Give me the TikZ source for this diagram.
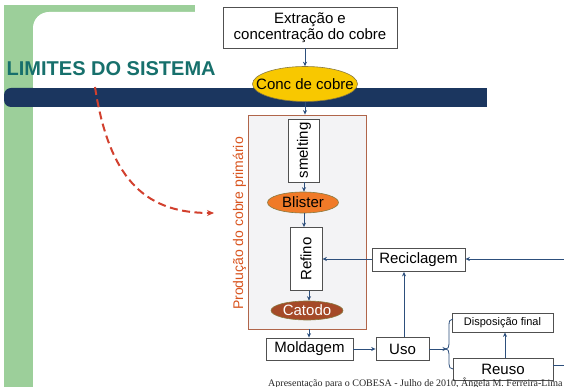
\documentclass[tikz,border=0pt]{standalone}
\usepackage{fontspec}
\setmainfont{Liberation Sans}
\newfontfamily\footfont{Liberation Serif}
\usetikzlibrary{shapes.geometric,arrows.meta}
\definecolor{navybar}{HTML}{1B365F}
\definecolor{greenbg}{HTML}{9CCF9A}
\definecolor{limteal}{HTML}{17706C}
\definecolor{boxgray}{HTML}{505050}
\definecolor{arrblue}{HTML}{2D4F7C}
\definecolor{concy}{HTML}{F8C800}
\definecolor{concd}{HTML}{8A7A40}
\definecolor{blistor}{HTML}{F07A28}
\definecolor{catbr}{HTML}{A54A28}
\definecolor{prodfill}{HTML}{F3F3F5}
\definecolor{prodline}{HTML}{B0654A}
\definecolor{prodtext}{HTML}{D9541E}
\definecolor{reddash}{HTML}{D2402E}
\begin{document}
\begin{tikzpicture}[x=1pt,y=-1pt,
  box/.style={draw=boxgray,fill=white,line width=0.8pt,inner sep=0pt,align=center,font=\fontsize{15}{17}\selectfont},
  ell/.style={ellipse,draw=concd,line width=0.6pt,inner sep=0pt},
  arr/.style={draw=arrblue,line width=0.9pt,-{Stealth[length=4.5pt,width=4pt]}},
  plainline/.style={draw=arrblue,line width=0.9pt},
  redarrow/.style={draw=reddash,line width=2pt,dash pattern=on 8pt off 4.5pt,-{Stealth[length=7pt,width=6pt]}}
]
\useasboundingbox (0,0) rectangle (564,387);
\fill[white] (0,0) rectangle (564,387);
% green frame
\fill[greenbg] (4,5) rectangle (195,12);
\fill[greenbg] (4,5) rectangle (33,387);
\fill[greenbg] (33,12) rectangle (55,34);
\fill[white,rounded corners=16pt] (33,12) rectangle (620,420);
% title
\node[anchor=base west,inner sep=0pt,text=limteal,font=\bfseries\fontsize{20}{24}\selectfont] (lim) at (6.5,76) {LIMITES DO SISTEMA};
% navy bar
\fill[navybar,rounded corners=7pt] (4,88) rectangle (40,107);
\fill[navybar] (20,88) rectangle (487,107);
% top nodes
\node[box,minimum width=174,minimum height=41] (ext) at (310,27.5) {Extração e\\[-1pt]concentração do cobre};
\node[ell,fill=concy,minimum width=105,minimum height=35,
      label={[inner sep=0pt,font=\fontsize{15}{17}\selectfont]center:Conc de cobre}] (conc) at (305,84) {};
% production block
\node[draw=prodline,fill=prodfill,line width=0.8pt,minimum width=118,minimum height=214,inner sep=0pt] (prod) at (307,222) {};
\node[text=prodtext,inner sep=0pt,font=\fontsize{14}{16}\selectfont] (prodlbl) at (239.5,223.5) {\rotatebox{90}{Produção do cobre primário}};
\node[box,minimum width=31,minimum height=63] (smelt) at (304,150.5) {\rotatebox{90}{smelting}};
\node[ell,fill=blistor,minimum width=71,minimum height=21,
      label={[inner sep=0pt,font=\fontsize{15}{17}\selectfont]center:Blister}] (blister) at (303,202.5) {};
\node[box,minimum width=32,minimum height=63] (refino) at (306,259) {\rotatebox{90}{Refino}};
\node[ell,fill=catbr,minimum width=72,minimum height=19,
      label={[inner sep=0pt,text=white,font=\fontsize{15}{17}\selectfont]center:Catodo}] (catodo) at (307,310.5) {};
% lower nodes
\node[box,minimum width=87,minimum height=22] (mold) at (309.5,349) {Moldagem};
\node[box,minimum width=53,minimum height=23] (uso) at (402.5,349) {Uso};
\node[box,minimum width=93,minimum height=23] (recic) at (418.5,260) {Reciclagem};
\node[box,minimum width=101,minimum height=19,font=\fontsize{11}{13}\selectfont] (disp) at (502.5,322.5) {Disposição final};
\node[box,minimum width=100,minimum height=22] (reuso) at (503,369) {Reuso};
% footer
\node[anchor=base west,inner sep=0pt,text=black!85,font=\footfont\fontsize{10}{12}\selectfont] (foot) at (268,386) {Apresentação para o COBESA - Julho de 2010, Ângela M. Ferreira-Lima};
% free ends
\coordinate (rin) at (566,259);
\coordinate (rout) at (566,365);
\coordinate (bt) at (447,349);
\coordinate (rs) at (95,87);
\coordinate (re) at (214,213);
% connectors
\draw[arr] (conc.north |- ext.south) -- (conc.north);
\draw[arr] (conc.south) -- (conc.south |- prod.north);
\draw[arr] (smelt.south) -- (smelt.south |- blister.north);
\draw[arr] (blister.south -| smelt.south) -- (smelt.south |- refino.north);
\draw[arr] (refino.south -| 309,0) -- (309,0 |- catodo.north);
\draw[arr] (309,0 |- prod.south) -- (309,0 |- mold.north);
\draw[arr] (mold) -- (uso);
\draw[arr] (uso.north -| 404,0) -- (404,0 |- recic.south);
\draw[arr] (recic.west |- 0,259) -- (refino.east |- 0,259);
\draw[arr] (rin) -- (recic.east |- rin);
\draw[arr] (uso.east) -- (bt);
\draw[arr] (505,0 |- reuso.north) -- (505,0 |- disp.south);
\draw[plainline] (reuso.east |- rout) -- (rout);
% brace
\draw[plainline,line width=0.8pt] (453,319) .. controls (450,319) and (449,321) .. (449,325) -- (449,344) .. controls (449,347) and (448,349) .. (446,349) .. controls (448,349) and (449,351) .. (449,354) -- (449,364) .. controls (449,367) and (450,369) .. (453,369);
% red dashed arrow
\draw[redarrow] (rs) .. controls (110,185) and (150,213) .. (re);
\end{tikzpicture}
\end{document}
